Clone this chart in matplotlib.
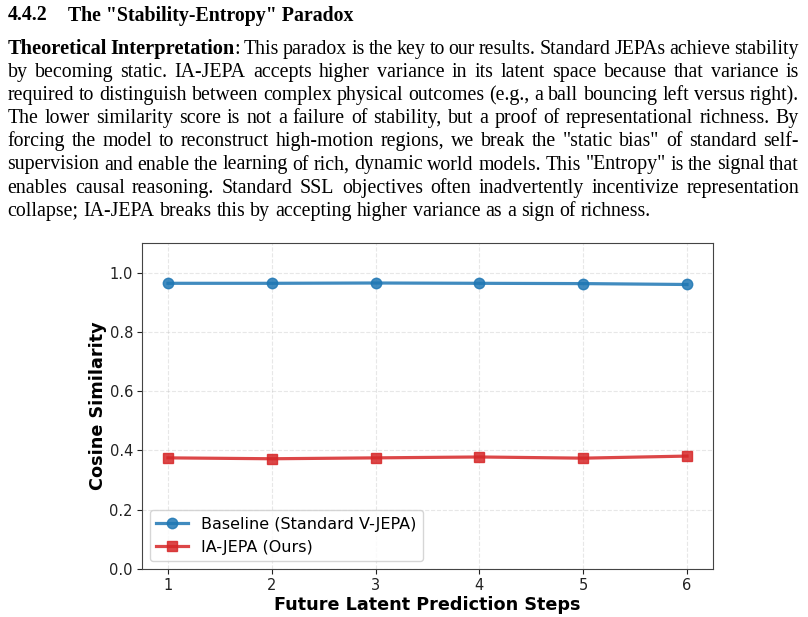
import matplotlib
matplotlib.use("Agg")
import matplotlib.pyplot as plt

# chart data
steps = [1, 2, 3, 4, 5, 6]
baseline_sim = [0.964, 0.964, 0.965, 0.964, 0.963, 0.960]
ia_jepa_sim = [0.375, 0.372, 0.375, 0.378, 0.374, 0.381]
series_labels = ["Baseline (Standard V-JEPA)", "IA-JEPA (Ours)"]
y_ticks = [0.0, 0.2, 0.4, 0.6, 0.8, 1.0]

# page text above the chart
heading_num = "4.4.2"
heading_title = 'The "Stability-Entropy" Paradox'
bold_lead = ["Theoretical", "Interpretation"]
body_lines = [
    "Theoretical Interpretation: This paradox is the key to our results. Standard JEPAs achieve stability",
    "by becoming static. IA-JEPA accepts higher variance in its latent space because that variance is",
    "required to distinguish between complex physical outcomes (e.g., a ball bouncing left versus right).",
    "The lower similarity score is not a failure of stability, but a proof of representational richness. By",
    'forcing the model to reconstruct high-motion regions, we break the "static bias" of standard self-',
    'supervision and enable the learning of rich, dynamic world models. This "Entropy" is the signal that',
    "enables causal reasoning. Standard SSL objectives often inadvertently incentivize representation",
    "collapse; IA-JEPA breaks this by accepting higher variance as a sign of richness.",
]

W, H = 808, 617
fig = plt.figure(figsize=(W / 100, H / 100), dpi=100)
renderer = fig.canvas.get_renderer()
serif = "Liberation Serif"


def px(x, y):
    return x / W, 1 - y / H


def width_of(s, size, bold=False):
    t = fig.text(0, 0, s, fontsize=size, family=serif,
                 fontweight="bold" if bold else "normal")
    w = t.get_window_extent(renderer).width
    t.remove()
    return w


def tokens_of(i, line):
    toks = []
    for w in line.split(" "):
        runs = [(w, False)]
        if i == 0:
            for b in bold_lead:
                if w.startswith(b):
                    runs = [(b, True)]
                    if len(w) > len(b):
                        runs.append((w[len(b):], False))
        toks.append(runs)
    return toks


left, right = 7.5, 799.0

# find size so that the tightest line just fits the column
natural = []
sp10 = width_of("x x", 10) - width_of("xx", 10)
for i, line in enumerate(body_lines[:-1]):
    toks = tokens_of(i, line)
    tot = sum(width_of(r, 10, b) for tk in toks for r, b in tk) + sp10 * (len(toks) - 1)
    natural.append(tot)
size = 10 * (right - left) / max(natural) * 1.015
bold_size = size * 1.02

space = width_of("x x", size) - width_of("xx", size)

# heading
fig.text(*px(left, 20.5), heading_num, fontsize=size, family=serif,
         fontweight="bold", va="baseline")
fig.text(*px(68, 20.5), heading_title, fontsize=size, family=serif,
         fontweight="bold", va="baseline")

base0, step = 54.0, 23.1
for i, line in enumerate(body_lines):
    y = base0 + i * step
    toks = tokens_of(i, line)
    tw = []
    for tk in toks:
        ws = [width_of(r, bold_size if b else size, b) for r, b in tk]
        # runs glued inside one word: trim a bit of the extent padding
        ws = [w - 0.8 if j < len(ws) - 1 else w for j, w in enumerate(ws)]
        tw.append(ws)
    total = sum(sum(t) for t in tw)
    if i < len(body_lines) - 1:
        gap = (right - left - total) / (len(toks) - 1)
    else:
        gap = space
    x = left
    for tk, ws in zip(toks, tw):
        for (r, b), w in zip(tk, ws):
            fig.text(*px(x, y), r, fontsize=bold_size if b else size, family=serif,
                     fontweight="bold" if b else "normal", va="baseline")
            x += w
        x += gap

# chart
ax = fig.add_axes([142 / W, 1 - 569 / H, (713 - 142) / W, (569 - 243) / H])
ax.plot(steps, baseline_sim, "-o", color="#1f77b4", lw=2.3, ms=7.5,
        alpha=0.85, label=series_labels[0])
ax.plot(steps, ia_jepa_sim, "-s", color="#d62728", lw=2.3, ms=7.5,
        alpha=0.85, label=series_labels[1])
ax.set_xlim(0.75, 6.25)
ax.set_ylim(0, 1.1)
ax.set_xticks(steps)
ax.set_yticks(y_ticks)
ax.tick_params(labelsize=10.5, colors="#222222", pad=3)
ax.grid(True, linestyle="--", alpha=0.3)
for s in ax.spines.values():
    s.set_color("#444444")
ax.set_xlabel("Future Latent Prediction Steps", fontsize=12.7, fontweight="bold",
              labelpad=2)
ax.set_ylabel("Cosine Similarity", fontsize=12.7, fontweight="bold", labelpad=2)
ax.legend(loc="lower left", fontsize=11.5)

fig.savefig("out.png", dpi=100)
